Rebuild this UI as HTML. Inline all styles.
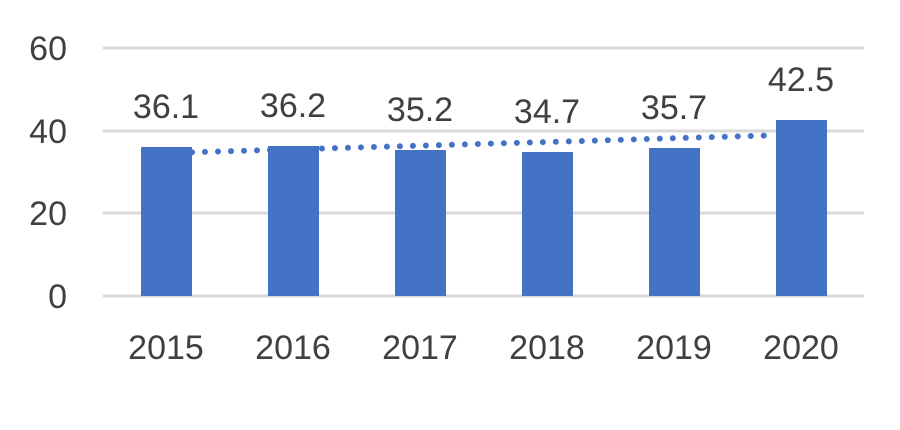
<!DOCTYPE html>
<html><head><style>body{margin:0;background:#fff}</style></head><body>
<svg width="900" height="425" xmlns="http://www.w3.org/2000/svg" font-family="Liberation Sans, sans-serif" font-size="34" fill="#404040">
<g stroke="#d9d9d9" stroke-width="3">
<line x1="103" x2="864" y1="48" y2="48"/><line x1="103" x2="864" y1="131" y2="131"/>
<line x1="103" x2="864" y1="213" y2="213"/><line x1="103" x2="864" y1="296" y2="296"/>
</g>
<g text-anchor="end"><text x="67" y="60">60</text><text x="67" y="143">40</text><text x="67" y="225">20</text><text x="67" y="308">0</text></g>
<g fill="#4472c4">
<rect x="141" y="147" width="51" height="149"/><rect x="268" y="146" width="51" height="150"/>
<rect x="395" y="150" width="51" height="146"/><rect x="522" y="152" width="51" height="144"/>
<rect x="649" y="148" width="51" height="148"/><rect x="776" y="120" width="51" height="176"/>
</g>
<line x1="192" y1="152.3" x2="776" y2="135.3" stroke="#4472c4" stroke-width="6" stroke-linecap="round" stroke-dasharray="0 13"/>
<g text-anchor="middle">
<text x="166" y="118">36.1</text><text x="293" y="117">36.2</text><text x="420" y="121">35.2</text>
<text x="547" y="123">34.7</text><text x="674" y="119">35.7</text><text x="801" y="91">42.5</text>
<text x="166" y="359">2015</text><text x="293" y="359">2016</text><text x="420" y="359">2017</text>
<text x="547" y="359">2018</text><text x="674" y="359">2019</text><text x="801" y="359">2020</text>
</g>
</svg>
</body></html>
